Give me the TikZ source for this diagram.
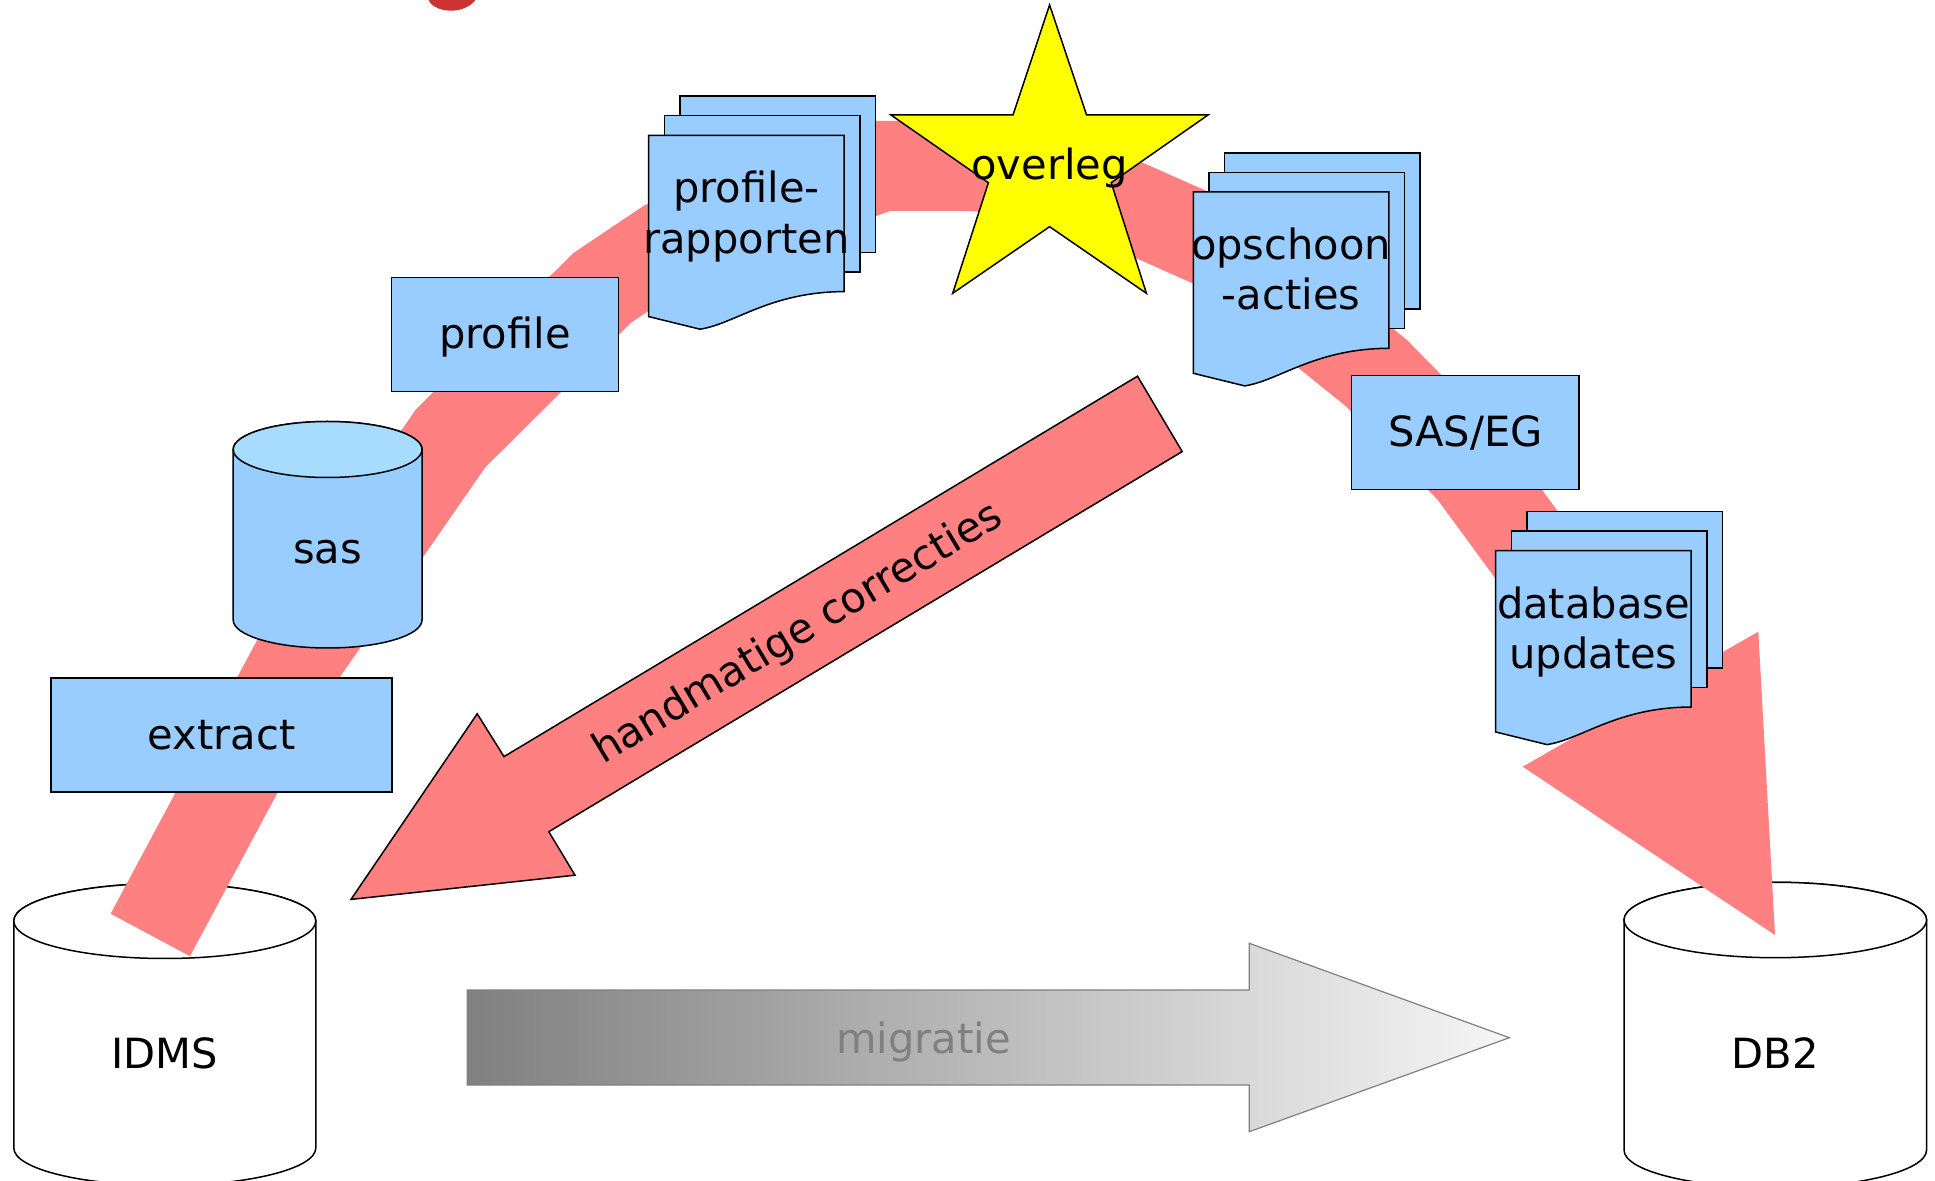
\documentclass[tikz,border=0pt]{standalone}
\usepackage{fontspec}
\setmainfont{DejaVu Sans}
\definecolor{boxblue}{RGB}{153,204,255}
\definecolor{topblue}{RGB}{168,220,255}
\definecolor{bandred}{RGB}{255,128,128}
\definecolor{titlered}{RGB}{204,51,51}
\definecolor{migrgray}{RGB}{128,128,128}
\definecolor{migrlight}{RGB}{246,246,246}
\definecolor{staryellow}{RGB}{255,255,0}
\newcommand{\ls}{\rule[-0.236em]{0pt}{1.164em}}
\tikzset{
  lbl/.style={font=\fontsize{20.8pt}{24.2pt}\selectfont, inner sep=0pt, align=center},
  shapeline/.style={draw=black, fill=boxblue, line width=0.75pt, line join=miter},
  box/.style={shapeline, lbl, minimum width=113.7pt, minimum height=57pt},
  band/.style={draw=bandred, line width=45pt, line join=miter, line cap=butt},
  handarrow/.style={draw=black, fill=bandred, line width=0.75pt, line join=miter},
  migrarrow/.style={draw=migrgray, line width=0.6pt, left color=migrgray, right color=migrlight},
  cylline/.style={draw=black, line width=0.75pt}
}
% document stack: front sheet top-left x0,y0 ; node name ; text
\newcommand{\docstack}[4]{%
  \begin{scope}[shift={(#1,#2)}]
    \draw[shapeline] (31.2,-39.2) rectangle ++(195.5,156.3);
    \draw[shapeline] (15.6,-19.6) rectangle ++(195.5,156.3);
    \draw[shapeline] (0,0) -- (195.5,0) -- (195.5,156.3)
      .. controls (121.2,156.6) and (86.2,188.6) .. (51.3,193.9) -- (0,181.3) -- cycle;
    \node[lbl] (#3) at (97.75,78.15) {#4};
  \end{scope}}
% cylinder: cx, rx, top y, bottom y, ry, body fill, top fill
\newcommand{\dbcyl}[7]{%
  \filldraw[cylline, fill=#6] (#1-#2,#3) -- (#1-#2,#4)
    arc[start angle=180, end angle=0, x radius=#2, y radius=#5]
    -- (#1+#2,#3)
    arc[start angle=0, end angle=-180, x radius=#2, y radius=#5] -- cycle;
  \filldraw[cylline, fill=#7] (#1,#3) ellipse[x radius=#2, y radius=#5];}
\begin{document}
\begin{tikzpicture}[x=0.5pt, y=-0.5pt]
\useasboundingbox (0,0) rectangle (1935,1181);

% fragment of a title letter cut by the top edge
\fill[titlered] (428.5,0) .. controls (432,8) and (444,11) .. (452,10.7)
  .. controls (462,10.5) and (471,6) .. (475.5,0) -- cycle;

% databases
\dbcyl{164.8}{151}{921}{1148}{37.5}{white}{white}
\node[lbl] (idms) at (164.8,1054.3) {\ls IDMS};
\dbcyl{1775.3}{151.3}{920}{1150}{37.7}{white}{white}
\node[lbl] (db2) at (1775.3,1053.9) {\ls DB2};

% the big process band
\coordinate (b0) at (150.3,935);
\coordinate (b1) at (299.7,656);
\coordinate (b2) at (450.5,438.5);
\coordinate (b3) at (602,288);
\coordinate (b4) at (665.3,245.5);
\coordinate (b5) at (882,166);
\coordinate (b6) at (960,166);
\coordinate (c1) at (1040,166);
\coordinate (c2) at (1101.3,193.5);
\coordinate (b7) at (1147,213.8);
\coordinate (b8) at (1218,245.4);
\coordinate (b9) at (1376.7,373.3);
\coordinate (b10) at (1471.9,470.4);
\coordinate (b11) at (1655,720);
\draw[band] (b0) -- (b1) -- (b2) -- (b3) -- (b4) -- (b5) -- (b6)
  .. controls (c1) and (c2) .. (b7) -- (b8) -- (b9) -- (b10) -- (b11);
\coordinate (h1) at (1522.7,766.7);
\coordinate (h2) at (1758.3,631.7);
\coordinate (h3) at (1775,935);
\fill[bandred] (h1) -- (h2) -- (h3) -- cycle;

% handmatige correcties arrow
\draw[handarrow] (351,899.4) -- (477.2,713.8) -- (504,756.6) -- (1137.5,376.2)
  -- (1182.2,451.6) -- (548.8,831.7) -- (575,875.2) -- cycle;
\node[lbl, rotate=31] (hand) at (796.5,631.9) {\ls handmatige correcties};

% migratie arrow
\draw[migrarrow] (467.3,990) -- (1249.3,990) -- (1249.3,943.3) -- (1509.4,1037.7)
  -- (1249.3,1131.7) -- (1249.3,1085) -- (467.3,1085) -- cycle;
\node[lbl, text=migrgray] (migr) at (923.3,1038.9) {\ls migratie};

% sas cylinder
\dbcyl{327.6}{94.4}{449.5}{620}{28}{boxblue}{topblue}
\node[lbl] (sas) at (327.6,549.6) {\ls sas};

% boxes
\node[box, minimum width=170.5pt] (extract) at (221.5,734.85) {\ls extract};
\node[box] (profile) at (505,334.3) {\ls profile};
\node[box, minimum height=56.8pt] (saseg) at (1465.35,432.5) {\ls SAS/EG};

% document stacks
\docstack{648.7}{135.3}{rapp}{\ls profile-\\\ls rapporten}
\docstack{1193.3}{192}{opsch}{\ls opschoon\\\ls -acties}
\docstack{1495.7}{550.7}{dbupd}{\ls database\\\ls updates}

% star
\draw[draw=black, fill=staryellow, line width=0.75pt, line join=miter]
  (1049.6,5) -- (1086.6,115) -- (1208,115) -- (1111.2,182.7) -- (1146.4,293.3)
  -- (1049.6,226.7) -- (952.7,293.3) -- (988.4,182.7) -- (891,115) -- (1013,115) -- cycle;
\node[lbl] (overleg) at (1049.6,165.6) {\ls overleg};
\end{tikzpicture}
\end{document}
